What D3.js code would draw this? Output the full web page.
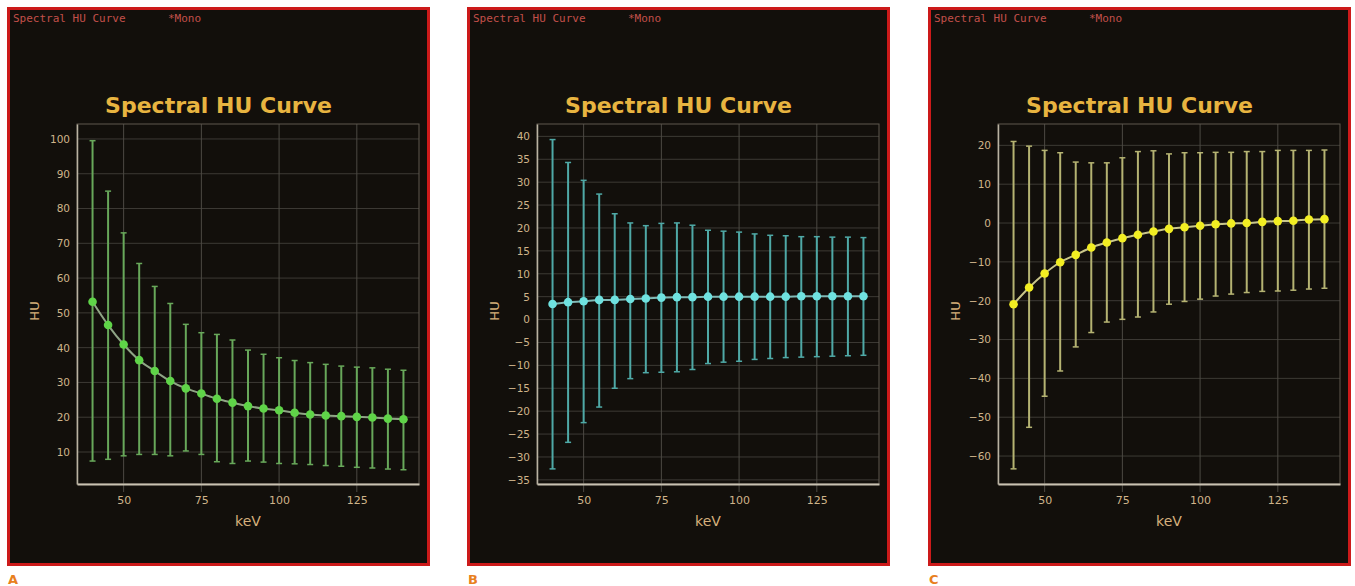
<!DOCTYPE html>
<html>
<head>
<meta charset="utf-8">
<script src="https://cdn.jsdelivr.net/npm/d3@7"></script>
<style>
  body { margin: 0; background: #fff; }
  svg { display: block; }
  .tick text { font-family: 'DejaVu Sans', sans-serif; }
</style>
</head>
<body>
<svg id="chart" width="1355" height="586"></svg>
<script>
const kev = [40, 45, 50, 55, 60, 65, 70, 75, 80, 85, 90, 95, 100, 105, 110, 115, 120, 125, 130, 135, 140]
const xTicks = [50, 75, 100, 125]

// panel A
const meanA = [53.2, 46.5, 40.9, 36.4, 33.3, 30.4, 28.3, 26.8, 25.3, 24.2, 23.2, 22.5, 22.0, 21.3, 20.8, 20.5, 20.3, 20.1, 19.9, 19.6, 19.4]
const hiA = [99.5, 85.0, 73.0, 64.2, 57.6, 52.7, 46.7, 44.3, 43.8, 42.2, 39.3, 38.1, 37.1, 36.3, 35.7, 35.2, 34.7, 34.4, 34.2, 33.8, 33.5]
const loA = [7.4, 7.9, 8.9, 9.3, 9.3, 8.9, 10.3, 9.3, 7.2, 6.7, 7.4, 7.1, 6.7, 6.6, 6.4, 6.1, 5.9, 5.6, 5.4, 5.1, 4.9]
const yTicksA = [10, 20, 30, 40, 50, 60, 70, 80, 90, 100]

// panel B
const meanB = [3.4, 3.8, 4.0, 4.3, 4.3, 4.5, 4.6, 4.8, 4.9, 4.9, 5.0, 5.0, 5.0, 5.0, 5.0, 5.0, 5.1, 5.1, 5.1, 5.1, 5.1]
const hiB = [39.3, 34.3, 30.4, 27.4, 23.1, 21.1, 20.5, 21.0, 21.1, 20.6, 19.5, 19.3, 19.1, 18.7, 18.4, 18.3, 18.1, 18.1, 18.0, 18.0, 17.9]
const loB = [-32.6, -26.8, -22.5, -19.1, -15.0, -12.9, -11.6, -11.5, -11.4, -10.9, -9.6, -9.3, -9.1, -8.7, -8.5, -8.3, -8.2, -8.1, -8.0, -7.9, -7.8]
const yTicksB = [-35, -30, -25, -20, -15, -10, -5, 0, 5, 10, 15, 20, 25, 30, 35, 40]

// panel C
const meanC = [-20.9, -16.6, -13.0, -10.1, -8.2, -6.3, -5.0, -3.9, -3.0, -2.2, -1.5, -1.1, -0.7, -0.3, -0.1, 0.0, 0.3, 0.5, 0.6, 0.9, 1.0]
const hiC = [21.0, 19.8, 18.7, 18.1, 15.7, 15.5, 15.5, 16.8, 18.4, 18.6, 17.8, 18.1, 18.1, 18.2, 18.2, 18.4, 18.4, 18.7, 18.7, 18.7, 18.8]
const loC = [-63.3, -52.6, -44.6, -38.1, -31.9, -28.2, -25.5, -24.8, -24.2, -22.9, -20.9, -20.2, -19.6, -18.8, -18.3, -17.9, -17.6, -17.5, -17.3, -17.0, -16.8]
const yTicksC = [-60, -50, -40, -30, -20, -10, 0, 10, 20]

const panels = [
  { letter: 'A', left: 7, mean: meanA, hi: hiA, lo: loA, ticks: yTicksA, domain: [0.8, 104.3],
    bar: '#68a85a', line: '#8fa585', dot: '#5fd448' },
  { letter: 'B', left: 467, mean: meanB, hi: hiB, lo: loB, ticks: yTicksB, domain: [-35.9, 42.7],
    bar: '#4fa9a6', line: '#7fb9b6', dot: '#6fe2e0' },
  { letter: 'C', left: 928, mean: meanC, hi: hiC, lo: loC, ticks: yTicksC, domain: [-67.2, 25.5],
    bar: '#b5b372', line: '#c9c68a', dot: '#f2ee22' },
]

const panelSize = { width: 423, height: 559, top: 7 }
const plot = { left: 70, top: 117, width: 342, height: 360 }

const svg = d3.select('#chart')

panels.forEach((p) => {
  const g = svg.append('g').attr('transform', `translate(${p.left}, ${panelSize.top})`)

  g.append('rect')
    .attr('x', 1.5).attr('y', 1.5)
    .attr('width', panelSize.width - 3).attr('height', panelSize.height - 3)
    .attr('fill', '#120f0b')
    .attr('stroke', '#cc1a1a')
    .attr('stroke-width', 3)

  g.append('text')
    .attr('x', 6).attr('y', 15)
    .style('font-family', 'DejaVu Sans Mono, monospace')
    .style('font-size', '11px')
    .attr('fill', '#c2504a')
    .text('Spectral HU Curve')

  g.append('text')
    .attr('x', 161).attr('y', 15)
    .style('font-family', 'DejaVu Sans Mono, monospace')
    .style('font-size', '11px')
    .attr('fill', '#c2504a')
    .text('*Mono')

  g.append('text')
    .attr('x', panelSize.width / 2).attr('y', 106)
    .attr('text-anchor', 'middle')
    .style('font-family', 'DejaVu Sans, sans-serif')
    .style('font-weight', 'bold')
    .style('font-size', '22px')
    .attr('fill', '#e8b440')
    .text('Spectral HU Curve')

  const area = g.append('g').attr('transform', `translate(${plot.left}, ${plot.top})`)

  const x = d3.scaleLinear().domain([35, 145]).range([0, plot.width])
  const y = d3.scaleLinear().domain(p.domain).range([plot.height, 0])

  // grid
  area.append('g')
    .selectAll('line')
    .data(p.ticks)
    .join('line')
    .attr('x1', 0).attr('x2', plot.width)
    .attr('y1', (d) => y(d)).attr('y2', (d) => y(d))
    .attr('stroke', '#3d3a35').attr('stroke-width', 1)

  area.append('g')
    .selectAll('line')
    .data(xTicks)
    .join('line')
    .attr('y1', 0).attr('y2', plot.height + 8)
    .attr('x1', (d) => x(d)).attr('x2', (d) => x(d))
    .attr('stroke', '#4d4a44').attr('stroke-width', 1)

  area.append('rect')
    .attr('width', plot.width).attr('height', plot.height)
    .attr('fill', 'none')
    .attr('stroke', '#5e594f')

  // axes
  const xAxis = area.append('g')
    .attr('transform', `translate(0, ${plot.height})`)
    .call(d3.axisBottom(x).tickValues(xTicks).tickSize(0).tickPadding(12))
  xAxis.select('.domain').attr('stroke', '#c9c2b2').attr('stroke-width', 2)
  xAxis.selectAll('text').attr('fill', '#cfb48a').style('font-size', '11px')

  const yAxis = area.append('g')
    .call(d3.axisLeft(y).tickValues(p.ticks).tickSize(0).tickPadding(7))
  yAxis.select('.domain').attr('stroke', '#b9b2a2').attr('stroke-width', 1.5)
  yAxis.selectAll('text').attr('fill', '#cfb48a').style('font-size', '10.5px')

  area.append('text')
    .attr('x', plot.width / 2).attr('y', plot.height + 42)
    .attr('text-anchor', 'middle')
    .style('font-family', 'DejaVu Sans, sans-serif')
    .style('font-size', '14px')
    .attr('fill', '#d6b07c')
    .text('keV')

  area.append('text')
    .attr('transform', `translate(-38, ${plot.height / 2 + 7}) rotate(-90)`)
    .attr('text-anchor', 'middle')
    .style('font-family', 'DejaVu Sans, sans-serif')
    .style('font-size', '13px')
    .attr('fill', '#d6b07c')
    .text('HU')

  const rows = kev.map((k, i) => ({ k, m: p.mean[i], hi: p.hi[i], lo: p.lo[i] }))

  // error bars
  const bars = area.append('g')
  bars.selectAll('.err')
    .data(rows)
    .join('line')
    .attr('class', 'err')
    .attr('x1', (d) => x(d.k)).attr('x2', (d) => x(d.k))
    .attr('y1', (d) => y(d.hi)).attr('y2', (d) => y(d.lo))
    .attr('stroke', p.bar).attr('stroke-width', 2)
  ;['hi', 'lo'].forEach((key) => {
    bars.selectAll(`.cap-${key}`)
      .data(rows)
      .join('line')
      .attr('class', `cap-${key}`)
      .attr('x1', (d) => x(d.k) - 3).attr('x2', (d) => x(d.k) + 3)
      .attr('y1', (d) => y(d[key])).attr('y2', (d) => y(d[key]))
      .attr('stroke', p.bar).attr('stroke-width', 1.5)
  })

  area.append('path')
    .datum(rows)
    .attr('fill', 'none')
    .attr('stroke', p.line)
    .attr('stroke-width', 2)
    .attr('d', d3.line().x((d) => x(d.k)).y((d) => y(d.m)).curve(d3.curveMonotoneX))

  area.append('g')
    .selectAll('circle')
    .data(rows)
    .join('circle')
    .attr('cx', (d) => x(d.k)).attr('cy', (d) => y(d.m))
    .attr('r', 4.3)
    .attr('fill', p.dot)

  svg.append('text')
    .attr('x', p.left + 1).attr('y', 584)
    .style('font-family', 'DejaVu Sans, sans-serif')
    .style('font-weight', 'bold')
    .style('font-size', '13px')
    .attr('fill', '#e8801e')
    .text(p.letter)
})
</script>
</body>
</html>
